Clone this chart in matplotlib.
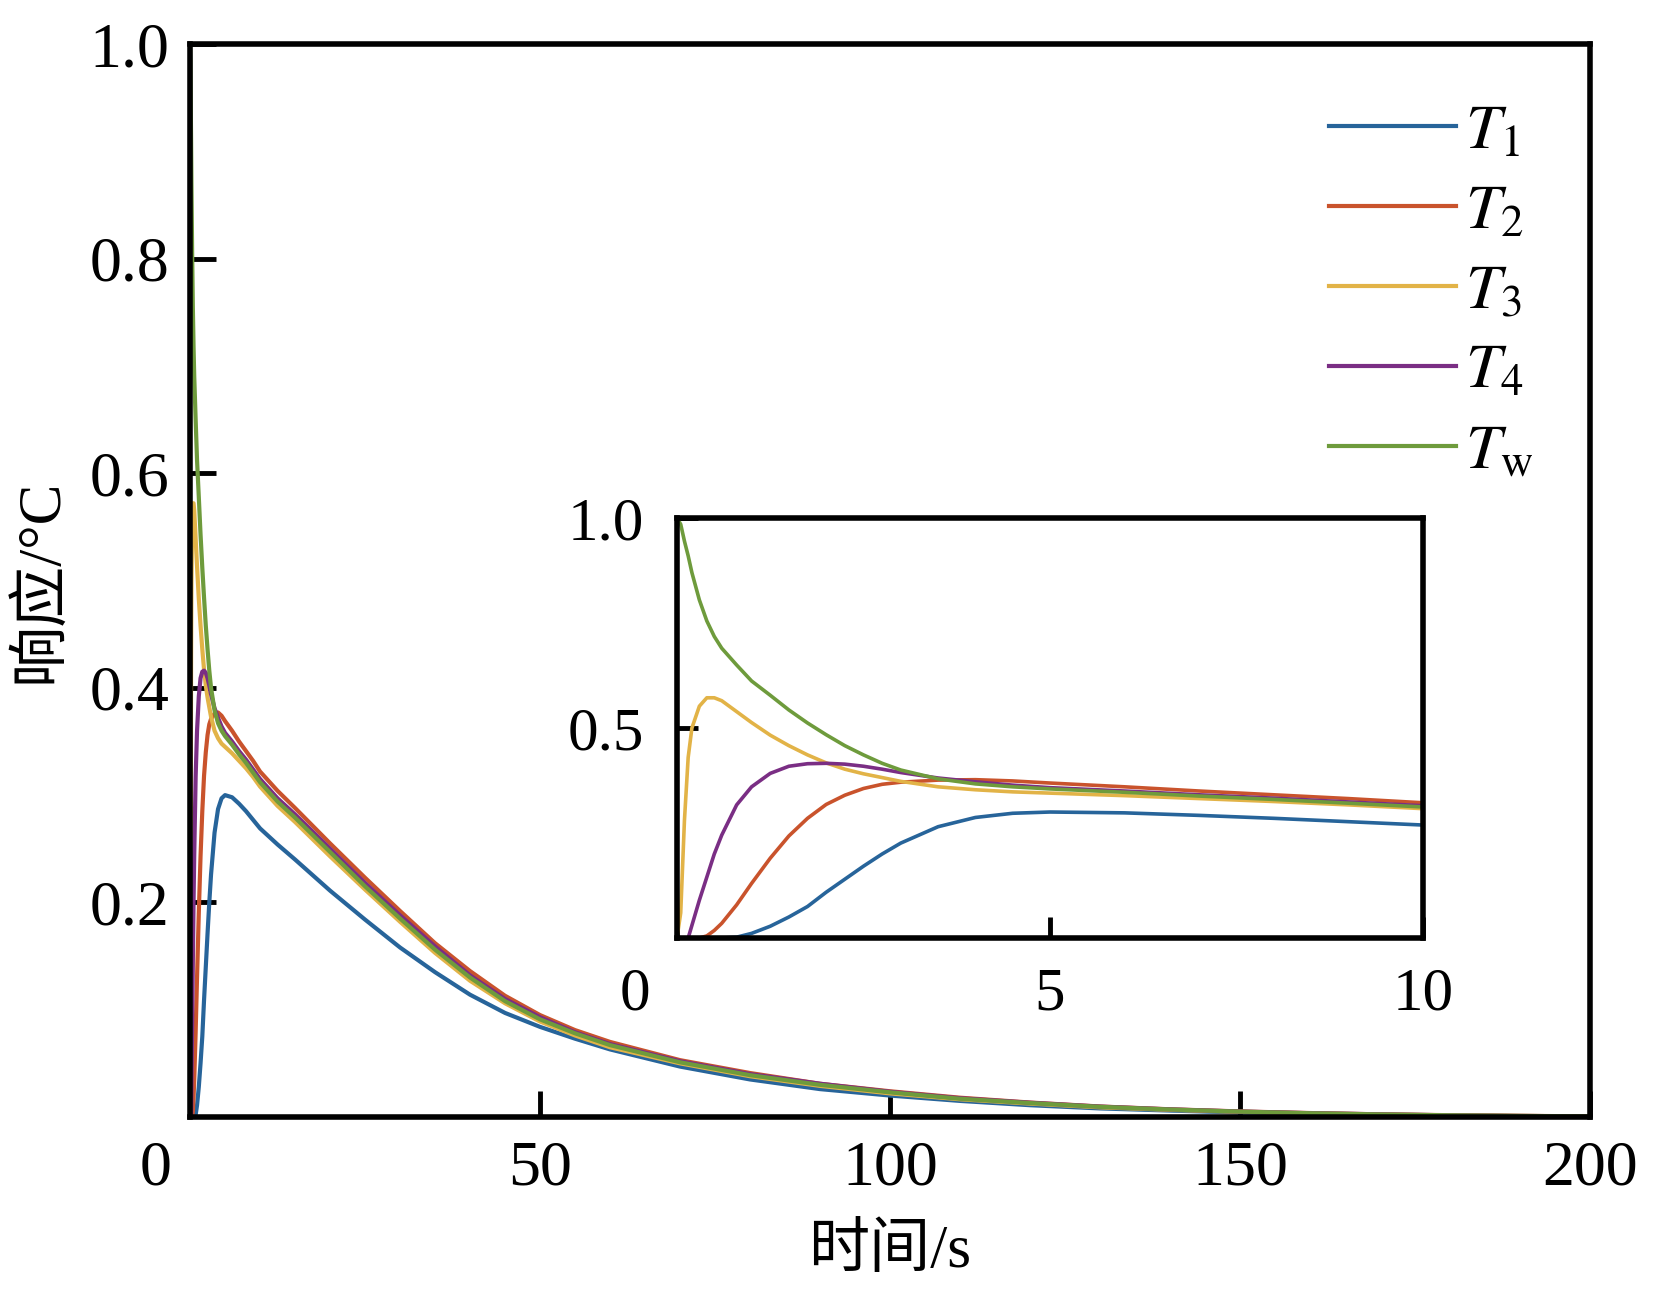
import matplotlib
matplotlib.use("Agg")
import matplotlib.pyplot as plt
import matplotlib.transforms as mtransforms

# time axis (s) and the five responses
time_s = [0, 0.05, 0.1, 0.15, 0.2, 0.3, 0.4, 0.5, 0.6, 0.8, 1.0, 1.25, 1.5, 1.75,
          2.0, 2.25, 2.5, 2.75, 3.0, 3.5, 4.0, 4.5, 5.0, 6.0, 7.0, 8.0, 9.0, 10.0,
          12.5, 15, 20, 25, 30, 35, 40, 45, 50, 55, 60, 70, 80, 90, 100, 110, 120,
          130, 140, 150, 160, 170, 180, 190, 200]

T1 = [0, 0, 0, 0, 0, 0, 0, 0, 0, 0.002, 0.011, 0.028, 0.05, 0.075,
      0.109, 0.14, 0.171, 0.2, 0.226, 0.265, 0.287, 0.297, 0.3, 0.298, 0.292, 0.285, 0.277, 0.269,
      0.254, 0.24, 0.211, 0.184, 0.158, 0.135, 0.114, 0.097, 0.084, 0.073, 0.063, 0.047, 0.035, 0.026, 0.02, 0.015, 0.011,
      0.008, 0.006, 0.0042, 0.003, 0.002, 0.0013, 0.0008, 0.0005]

T2 = [0, 0, 0, 0, 0, 0, 0.005, 0.018, 0.035, 0.079, 0.13, 0.19, 0.243, 0.285,
      0.318, 0.34, 0.356, 0.366, 0.371, 0.376, 0.377, 0.374, 0.369, 0.36, 0.35, 0.341, 0.332, 0.322,
      0.304, 0.288, 0.255, 0.223, 0.192, 0.162, 0.136, 0.113, 0.095, 0.081, 0.07, 0.053, 0.041, 0.031, 0.024, 0.018, 0.0135,
      0.0098, 0.0072, 0.0052, 0.0037, 0.0025, 0.0017, 0.0011, 0.0006]

T3 = [0, 0.06, 0.28, 0.43, 0.5, 0.552, 0.572, 0.572, 0.565, 0.539, 0.513, 0.483, 0.458, 0.436,
      0.417, 0.402, 0.391, 0.382, 0.373, 0.36, 0.353, 0.348, 0.345, 0.339, 0.332, 0.325, 0.317, 0.308,
      0.29, 0.275, 0.243, 0.212, 0.182, 0.153, 0.127, 0.106, 0.089, 0.076, 0.065, 0.05, 0.038, 0.029, 0.022, 0.0165, 0.0125,
      0.009, 0.0067, 0.0048, 0.0033, 0.0023, 0.0015, 0.001, 0.0006]

T4 = [0, 0, 0, 0, 0.03, 0.09, 0.145, 0.2, 0.245, 0.317, 0.36, 0.392, 0.409, 0.415,
      0.416, 0.414, 0.409, 0.402, 0.394, 0.381, 0.372, 0.364, 0.358, 0.35, 0.341, 0.333, 0.324, 0.315,
      0.297, 0.282, 0.25, 0.218, 0.188, 0.159, 0.132, 0.11, 0.093, 0.079, 0.068, 0.052, 0.04, 0.031, 0.0235, 0.0175, 0.0133,
      0.0097, 0.0071, 0.0051, 0.0036, 0.0025, 0.0016, 0.001, 0.0006]

Tw = [1.0, 0.985, 0.945, 0.91, 0.87, 0.805, 0.755, 0.718, 0.69, 0.65, 0.612, 0.578, 0.543, 0.512,
      0.484, 0.458, 0.436, 0.416, 0.4, 0.379, 0.367, 0.36, 0.355, 0.347, 0.338, 0.33, 0.321, 0.312,
      0.294, 0.279, 0.247, 0.215, 0.185, 0.156, 0.13, 0.108, 0.091, 0.078, 0.067, 0.051, 0.039, 0.03, 0.023, 0.017, 0.013,
      0.0095, 0.007, 0.005, 0.0035, 0.0024, 0.0016, 0.001, 0.0006]

labels = [r"$T_{1}$", r"$T_{2}$", r"$T_{3}$", r"$T_{4}$", r"$T_{\mathrm{w}}$"]
colors = ["#27649A", "#C9532C", "#E2B347", "#7A2E84", "#6E9B3C"]

main_xticks = [0, 50, 100, 150, 200]
main_yticks = [0.2, 0.4, 0.6, 0.8, 1.0]
inset_xticks = [0, 5, 10]
inset_yticks = [0.5, 1.0]

plt.rcParams["font.family"] = ["Liberation Serif", "Noto Sans CJK SC"]
plt.rcParams["mathtext.fontset"] = "stix"

fig = plt.figure(figsize=(16.54, 12.99), dpi=100)
ax = fig.add_axes([0.1149, 0.1401, 0.8464, 0.826])
ins = fig.add_axes([0.4093, 0.2779, 0.451, 0.3233])

series = [T1, T2, T3, T4, Tw]
for vals, lab, col in zip(series, labels, colors):
    ax.plot(time_s, vals, color=col, lw=3.0, label=lab)
    ins.plot(time_s, vals, color=col, lw=2.6)

# main axes
ax.set_xlim(0, 200)
ax.set_ylim(0, 1.0)
ax.set_xticks(main_xticks)
ax.set_yticks(main_yticks)
ax.set_yticklabels(["%.1f" % v for v in main_yticks])
ax.tick_params(direction="in", length=19, width=3.5, labelsize=46, pad=15)
ax.tick_params(axis="x", pad=17)
for s in ax.spines.values():
    s.set_linewidth(4)
ax.set_xlabel("时间/s", fontsize=44, labelpad=18)
ax.set_ylabel("响应/°C", fontsize=44, labelpad=14)

leg = ax.legend(loc="upper left", bbox_to_anchor=(0.795, 0.968), borderaxespad=0,
                frameon=False, fontsize=46, handlelength=2.0, handletextpad=0.13,
                labelspacing=0.33)

# inset
ins.set_xlim(0, 10)
ins.set_ylim(0, 1.0)
ins.set_xticks(inset_xticks)
ins.set_yticks(inset_yticks)
ins.set_yticklabels(["%.1f" % v for v in inset_yticks])
ins.tick_params(direction="in", length=15, width=3.5, labelsize=44, pad=24)
ins.tick_params(axis="x", pad=21)
for s in ins.spines.values():
    s.set_linewidth(4)

# the "0" labels sit a bit left of the corner
for a, dx in [(ax, -0.34), (ins, -0.42)]:
    a.get_xticklabels()
    t0 = a.xaxis.get_major_ticks()[0].label1
    t0.set_transform(t0.get_transform() + mtransforms.ScaledTranslation(dx, 0, fig.dpi_scale_trans))

fig.savefig("out.png", dpi=100)
